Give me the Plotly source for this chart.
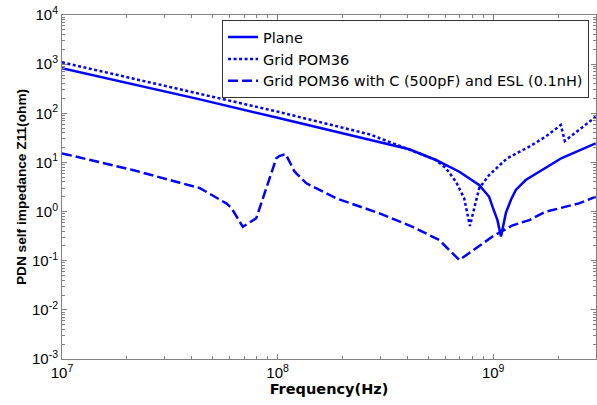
import plotly.graph_objects as go

# Plane (solid)
plane_f = [1.0e7, 4.36e7, 1.0e8, 2.67e8, 4.08e8, 5.43e8, 6.97e8, 8.61e8, 9.58e8, 9.93e8,
           1.047e9, 1.087e9, 1.146e9, 1.208e9, 1.274e9, 1.416e9, 1.633e9, 2.08e9, 2.99e9]
plane_z = [822, 192, 81, 29.5, 18.5, 11.2, 6.47, 3.47, 2.0, 1.26,
           0.67, 0.31, 0.94, 1.72, 2.75, 4.39, 6.47, 12.3, 24.5]

# Grid POM36 (dotted)
grid_f = [1.0e7, 4.36e7, 1.0e8, 2.67e8, 3.30e8, 4.22e8, 5.43e8, 6.04e8, 6.72e8, 7.34e8,
          7.8e8, 8.17e8, 8.61e8, 9.58e8, 1.16e9, 1.47e9, 1.75e9, 2.06e9, 2.15e9,
          2.5e9, 2.99e9]
grid_z = [1089, 247, 108, 37.3, 26.4, 17.3, 11.2, 7.6, 4.06, 1.86,
          0.51, 1.24, 2.97, 5.55, 12.1, 20.9, 33.4, 57.7, 27.3, 45.7, 85]

# Grid POM36 with C (500pF) and ESL (0.1nH) (dashed)
gridc_f = [1.0e7, 2.13e7, 3.52e7, 4.36e7, 5.78e7, 6.11e7, 6.9e7, 7.96e7, 9.86e7, 1.02e8,
           1.09e8, 1.2e8, 1.36e8, 1.87e8, 2.97e8, 4.23e8, 5.62e8, 6.97e8, 8.61e8, 9.93e8,
           1.224e9, 1.47e9, 1.75e9, 2.5e9, 2.99e9]
gridc_z = [15.3, 7.01, 3.87, 3.01, 1.47, 1.18, 0.49, 0.73, 12.1, 13.5, 14.8, 6.47, 3.76,
           1.86, 0.92, 0.49, 0.264, 0.103, 0.199, 0.31, 0.52, 0.67, 0.99, 1.47, 2.0]

series_names = ["Plane", "Grid POM36",
                "Grid POM36 with C (500pF) and ESL (0.1nH)"]

y_tickvals = [1e-3, 1e-2, 1e-1, 1e0, 1e1, 1e2, 1e3, 1e4]
y_ticktext = ["10<sup>-3</sup>", "10<sup>-2</sup>", "10<sup>-1</sup>", "10<sup>0</sup>",
              "10<sup>1</sup>", "10<sup>2</sup>", "10<sup>3</sup>", "10<sup>4</sup>"]
x_tickvals = [1e7, 1e8, 1e9]
x_ticktext = ["10<sup>7</sup>", "10<sup>8</sup>", "10<sup>9</sup>"]

blue = "#0000FF"
fig = go.Figure()
fig.add_trace(go.Scatter(x=plane_f, y=plane_z, mode="lines", name=series_names[0],
                         line=dict(color=blue, width=2.5)))
fig.add_trace(go.Scatter(x=grid_f, y=grid_z, mode="lines", name=series_names[1],
                         line=dict(color=blue, width=2.5, dash="3px,2.5px")))
fig.add_trace(go.Scatter(x=gridc_f, y=gridc_z, mode="lines", name=series_names[2],
                         line=dict(color=blue, width=2.5, dash="10px,4px")))

font = "Arial, Liberation Sans, sans-serif"
wide = "DejaVu Sans, Verdana, sans-serif"
axis_common = dict(
    showline=True, linecolor="#808080", linewidth=1, mirror="ticks",
    ticks="inside", ticklen=5, tickcolor="#808080", showgrid=False, zeroline=False,
    tickfont=dict(family=font, size=15, color="black"),
    minor=dict(ticks="inside", ticklen=3, tickcolor="#808080", dtick="D1", showgrid=False),
)
fig.update_xaxes(type="log", range=[7, 9.4771], tickvals=x_tickvals, ticktext=x_ticktext,
                 title=dict(text="<b>Frequency(Hz)</b>", font=dict(family=wide, size=14.5, color="black"),
                            standoff=3),
                 **axis_common)
fig.update_yaxes(type="log", range=[-3, 4], tickvals=y_tickvals, ticktext=y_ticktext,
                 title=dict(text="<b>PDN self impedance Z11(ohm)</b>",
                            font=dict(family=font, size=13.7, color="black"), standoff=2),
                 **axis_common)

fig.update_layout(
    width=597, height=405,
    margin=dict(l=62, r=1, t=15, b=46),
    paper_bgcolor="white", plot_bgcolor="white",
    showlegend=True,
    legend=dict(x=0.987, y=0.985, xanchor="right", yanchor="top",
                bgcolor="white", bordercolor="#333333", borderwidth=1,
                font=dict(family=wide, size=14.5, color="black"),
                tracegroupgap=0, itemwidth=30),
)

fig.write_html("out.html")
